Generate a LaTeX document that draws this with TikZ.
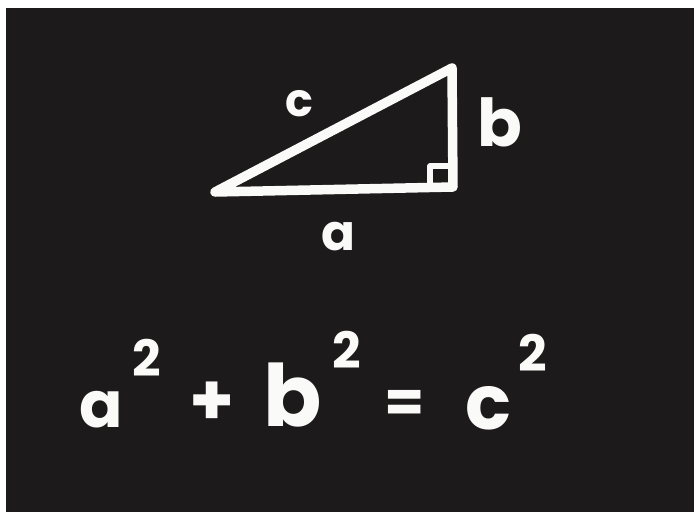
\documentclass[tikz,border=0pt]{standalone}
\usepackage{fontspec}
\setmainfont{Poppins}
\definecolor{board}{RGB}{28,26,26}
\definecolor{chalk}{RGB}{250,250,248}
\begin{document}
\begin{tikzpicture}[x=1pt,y=-1pt,
  chalkline/.style={draw=chalk,line width=9.5pt,line join=round,line cap=round},
  lbl/.style={text=chalk,inner sep=0pt,anchor=center}]
\useasboundingbox (0,0) rectangle (694,512);
\fill[white] (0,0) rectangle (694,512);
\fill[board] (6,8) rectangle (694,512);
% triangle
\coordinate (A) at (215,192);
\coordinate (B) at (452,68);
\coordinate (C) at (453,187);
\draw[chalkline] (A) -- (B) -- (C) -- cycle;
\coordinate (s1) at (430,187);
\coordinate (s2) at (430,166);
\coordinate (s3) at (453,166);
\draw[draw=chalk,line width=5.5pt,line join=round] (s1) -- (s2) -- (s3);
% side labels
\node[lbl,font=\bfseries\fontsize{46}{46}\selectfont] (lc) at (299,104) {c};
\node[lbl,font=\bfseries\fontsize{66}{66}\selectfont] (lb) at (500,122) {b};
\node[lbl,font=\bfseries\fontsize{50}{50}\selectfont] (la) at (338,237) {a};
% equation
\node[lbl,font=\bfseries\fontsize{64}{64}\selectfont] (ea) at (101,410) {a};
\node[lbl,font=\bfseries\fontsize{50}{50}\selectfont] (e2a) at (147,358) {2};
\node[lbl,font=\bfseries\fontsize{72}{72}\selectfont] (ep) at (212,404) {+};
\node[lbl,font=\bfseries\fontsize{86}{86}\selectfont] (eb) at (293,395) {b};
\node[lbl,font=\bfseries\fontsize{50}{50}\selectfont] (e2b) at (347,350) {2};
\node[lbl,font=\bfseries\fontsize{58}{58}\selectfont] (ee) at (405,406) {=};
\node[lbl,font=\bfseries\fontsize{76}{76}\selectfont] (ec) at (488,408) {c};
\node[lbl,font=\bfseries\fontsize{50}{50}\selectfont] (e2c) at (533,353) {2};
\end{tikzpicture}
\end{document}
